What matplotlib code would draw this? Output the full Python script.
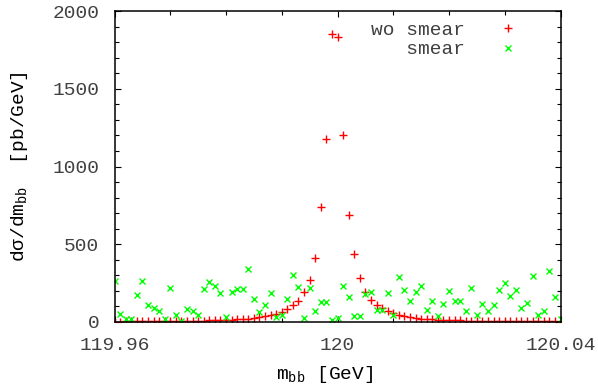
import numpy as np
import matplotlib
matplotlib.use("Agg")
import matplotlib.pyplot as plt
from matplotlib.ticker import FixedLocator, MultipleLocator

# ---- data ----
mbb = [119.960, 119.961, 119.962, 119.963, 119.964, 119.965, 119.966, 119.967, 119.968, 119.969,
       119.970, 119.971, 119.972, 119.973, 119.974, 119.975, 119.976, 119.977, 119.978, 119.979,
       119.980, 119.981, 119.982, 119.983, 119.984, 119.985, 119.986, 119.987, 119.988, 119.989,
       119.990, 119.991, 119.992, 119.993, 119.994, 119.995, 119.996, 119.997, 119.998, 119.999,
       120.000, 120.001, 120.002, 120.003, 120.004, 120.005, 120.006, 120.007, 120.008, 120.009,
       120.010, 120.011, 120.012, 120.013, 120.014, 120.015, 120.016, 120.017, 120.018, 120.019,
       120.020, 120.021, 120.022, 120.023, 120.024, 120.025, 120.026, 120.027, 120.028, 120.029,
       120.030, 120.031, 120.032, 120.033, 120.034, 120.035, 120.036, 120.037, 120.038, 120.039,
       120.040]

wo_smear = [3, 3, 4, 4, 4, 4, 5, 5, 5, 6,
            6, 6, 7, 7, 8, 8, 9, 10, 11, 12,
            13, 15, 17, 19, 21, 26, 30, 37, 43, 53,
            64, 84, 107, 133, 191, 270, 412, 740, 1175, 1850,
            1830, 1200, 690, 435, 280, 195, 141, 107, 90, 71,
            56, 45, 37, 30, 26, 21, 19, 17, 15, 13,
            12, 11, 10, 9, 9, 8, 8, 7, 7, 6,
            6, 6, 5, 5, 5, 5, 4, 4, 4, 4,
            3]

smear = [266, 49, 21, 21, 174, 264, 109, 92, 69, 19,
         216, 45, 6, 82, 69, 43, 212, 257, 229, 189,
         32, 193, 214, 210, 339, 146, 62, 107, 189, 32,
         45, 148, 304, 227, 26, 221, 71, 131, 131, 15,
         26, 234, 159, 39, 39, 178, 195, 75, 75, 184,
         43, 289, 206, 133, 193, 234, 77, 133, 37, 118,
         199, 133, 133, 69, 221, 43, 118, 73, 107, 204,
         249, 165, 204, 88, 120, 294, 47, 73, 326, 163,
         17]

xtick_vals = [119.96, 120.0, 120.04]
xtick_labels = ["119.96", "120", "120.04"]
ytick_vals = [0, 500, 1000, 1500, 2000]

# ---- style ----
FONT = "Liberation Mono"
TEXT_COLOR = "#404040"
plt.rcParams["font.family"] = [FONT, "DejaVu Sans"]
plt.rcParams["font.size"] = 14
plt.rcParams["mathtext.fontset"] = "custom"
plt.rcParams["mathtext.rm"] = FONT
plt.rcParams["mathtext.it"] = FONT
plt.rcParams["text.color"] = TEXT_COLOR

fig = plt.figure(figsize=(5.98, 3.92), dpi=100)
ax = fig.add_axes([0.1915, 0.1786, 0.7458, 0.7933])

ax.plot(mbb, wo_smear, linestyle="none", marker="+", markersize=5.5,
        markeredgewidth=1.0, color="#ff0000", label="wo smear")
ax.plot(mbb, smear, linestyle="none", marker="x", markersize=4.5,
        markeredgewidth=1.0, color="#00ff00", label="   smear")

ax.set_xlim(119.96, 120.04)
ax.set_ylim(0, 2000)
ax.xaxis.set_major_locator(FixedLocator(xtick_vals))
ax.set_xticklabels(xtick_labels)
ax.xaxis.set_minor_locator(MultipleLocator(0.01))
ax.yaxis.set_major_locator(FixedLocator(ytick_vals))
ax.yaxis.set_minor_locator(MultipleLocator(100))

ax.tick_params(which="both", direction="in", top=True, right=True,
               color="black", width=0.8, labelcolor=TEXT_COLOR, labelsize=14)
ax.tick_params(which="major", length=4.5)
ax.tick_params(which="minor", length=3)
ax.tick_params(axis="x", which="major", pad=11)
ax.tick_params(axis="y", which="major", pad=11)
for sp in ax.spines.values():
    sp.set_linewidth(1.1)

ax.set_xlabel(r"m$_{\mathrm{bb}}$ [GeV]", fontsize=14)
ax.set_ylabel("d\u03c3/dm$_{\\mathrm{bb}}$  [pb/GeV]", fontsize=14)
ax.xaxis.set_label_coords(0.47, -0.135)
ax.yaxis.set_label_coords(-0.19, 0.5)

ax.legend(loc="upper right", bbox_to_anchor=(0.925, 0.967), frameon=False,
          markerfirst=False, numpoints=1, handlelength=2.0, handletextpad=1.2,
          borderpad=0, borderaxespad=0, labelspacing=0.1, fontsize=14,
          markerscale=1.0)

fig.savefig("out.png", dpi=100)
